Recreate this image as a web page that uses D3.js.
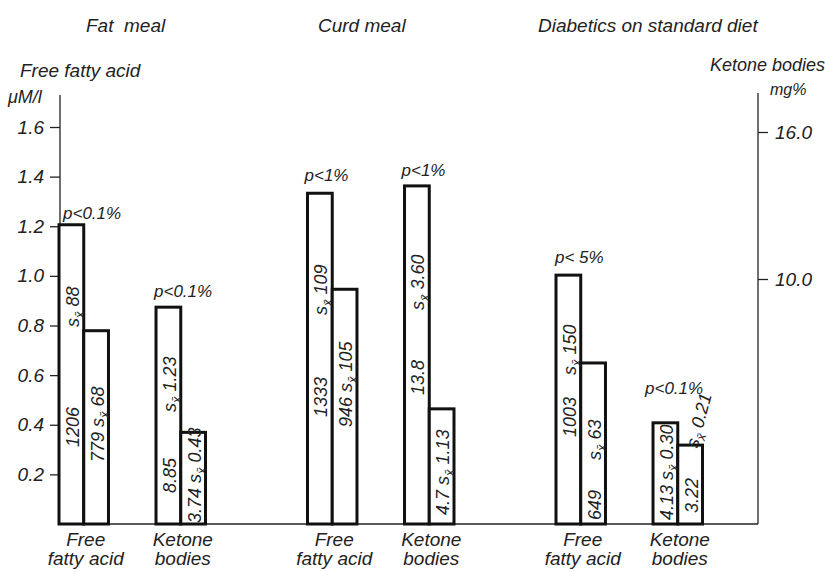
<!DOCTYPE html>
<html>
<head>
<meta charset="utf-8">
<script src="https://cdn.jsdelivr.net/npm/d3@7"></script>
<style>
  html, body { margin: 0; padding: 0; background: #ffffff; }
  svg { display: block; }
  text { font-family: "Liberation Sans", Arial, sans-serif; font-style: italic; fill: #222; }
</style>
</head>
<body>
<svg id="chart" width="825" height="572"></svg>
<script>
// ---------- data ----------
const groups = ["Fat meal", "Curd meal", "Diabetics on standard diet"];
const measures = ["Free fatty acid", "Ketone bodies"];
// Free fatty acid, μM/l (printed values; axis shows them /1000)
const ffaMeans = [[1206, 779], [1333, 946], [1003, 649]];
const ffaSE    = [[88, 68], [109, 105], [150, 63]];
// Ketone bodies, mg%
const kbMeans  = [[8.85, 3.74], [13.8, 4.7], [4.13, 3.22]];
const kbSE     = [[1.23, 0.43], [3.60, 1.13], [0.30, 0.21]];
const pLabels  = [["p<0.1%", "p<0.1%"], ["p<1%", "p<1%"], ["p< 5%", "p<0.1%"]];
const leftTicks  = [200, 400, 600, 800, 1000, 1200, 1400, 1600];
const rightTicks = [10, 16];

// ---------- layout (not data) ----------
const W = 825, H = 572;
const baseY = 524, leftX = 60, rightX = 758;
// label placement along each bar: px above baseline
const labelLayout = [
  {mean: 77, se: 197}, {comb: 62},
  {mean: 31, se: 112}, {comb: 1},
  {mean: 107, se: 209}, {comb: 97},
  {mean: 129, se: 214}, {comb: 9},
  {mean: 87, se: 149}, {mean: 4, se: 64},
  {comb: 4}, {mean: 11, se: 77, tilt: -75}
];
const pLayout = [
  {dx: 4, dy: 6}, {dx: -2, dy: 10},
  {dx: -3, dy: 12}, {dx: -3, dy: 10},
  {dx: -1, dy: 12}, {dx: -8, dy: 29}
];

const svg = d3.select("#chart");

const yL = d3.scaleLinear().domain([0, 1600]).range([baseY, 127]);
const yR = d3.scaleLinear().domain([0, 16]).range([baseY, 132]);

const gx = d3.scaleBand().domain(groups).range([59, 59 + 3 * 248.5]).paddingInner(0).paddingOuter(0);
const mx = d3.scaleBand().domain(measures).range([0, 146.5]).paddingInner(0.49).paddingOuter(0);
const bx = d3.scaleBand().domain([0, 1]).range([0, mx.bandwidth()]).padding(0);

// flatten bars
const bars = [];
groups.forEach((g, gi) => {
  measures.forEach((m, mi) => {
    [0, 1].forEach(k => {
      const isFFA = mi === 0;
      bars.push({
        g, m, k, gi, mi,
        value: isFFA ? ffaMeans[gi][k] : kbMeans[gi][k],
        meanTxt: isFFA ? String(ffaMeans[gi][k]) : String(kbMeans[gi][k]),
        seTxt: isFFA ? String(ffaSE[gi][k]) : kbSE[gi][k].toFixed(2),
        scale: isFFA ? yL : yR
      });
    });
  });
});
bars.forEach((b, i) => {
  b.x = gx(b.g) + mx(b.m) + bx(b.k);
  b.w = bx.bandwidth();
  b.top = b.scale(b.value);
  b.lay = labelLayout[i];
});

// ---------- axes ----------
const axisColor = "#222";
// left axis line
svg.append("line")
  .attr("x1", leftX).attr("x2", leftX)
  .attr("y1", yL(1600) - 32).attr("y2", baseY)
  .attr("stroke", axisColor).attr("stroke-width", 1.3);
// right axis line
svg.append("line")
  .attr("x1", rightX).attr("x2", rightX)
  .attr("y1", yR(16) - 39).attr("y2", baseY)
  .attr("stroke", axisColor).attr("stroke-width", 1.3);

const la = svg.append("g").attr("transform", `translate(${leftX},0)`)
  .call(d3.axisLeft(yL).tickValues(leftTicks).tickSize(10).tickPadding(6)
    .tickFormat(d => (d / 1000).toFixed(1)));
la.select(".domain").remove();
la.selectAll(".tick line").attr("stroke", axisColor).attr("stroke-width", 1.3);
la.selectAll(".tick text").attr("font-size", 19).attr("fill", "#222")
  .style("font-family", '"Liberation Sans", Arial, sans-serif').style("font-style", "italic");

const ra = svg.append("g").attr("transform", `translate(${rightX},0)`)
  .call(d3.axisRight(yR).tickValues(rightTicks).tickSize(10).tickPadding(7)
    .tickFormat(d3.format(".1f")));
ra.select(".domain").remove();
ra.selectAll(".tick line").attr("stroke", axisColor).attr("stroke-width", 1.3);
ra.selectAll(".tick text").attr("font-size", 19).attr("fill", "#222")
  .style("font-family", '"Liberation Sans", Arial, sans-serif').style("font-style", "italic");

// baseline
svg.append("line")
  .attr("x1", leftX - 1).attr("x2", rightX)
  .attr("y1", baseY).attr("y2", baseY)
  .attr("stroke", axisColor).attr("stroke-width", 1.6);

// axis titles
svg.append("text").attr("x", 20).attr("y", 77).attr("font-size", 19).text("Free fatty acid");
svg.append("text").attr("x", 8).attr("y", 103).attr("font-size", 18).text("μM/l");
svg.append("text").attr("x", 710).attr("y", 71).attr("font-size", 18).text("Ketone bodies");
svg.append("text").attr("x", 770).attr("y", 95).attr("font-size", 16).text("mg%");

// group titles
const titleX = [86, 318, 538];
groups.forEach((g, i) => {
  svg.append("text").attr("x", titleX[i]).attr("y", 32).attr("font-size", 19)
    .attr("xml:space", "preserve").text(g === "Fat meal" ? "Fat  meal" : g);
});

// ---------- bars ----------
svg.append("g").selectAll("rect").data(bars).join("rect")
  .attr("x", d => d.x).attr("y", d => d.top)
  .attr("width", d => d.w).attr("height", d => baseY - d.top)
  .attr("fill", "#fff").attr("stroke", "#111").attr("stroke-width", 3);

// bar labels (rotated)
function addSE(t, se) {
  t.append("tspan").text("s");
  t.append("tspan").attr("dy", 5).attr("font-size", 13).text("x\u0304");
  t.append("tspan").attr("dy", -5).text(" " + se);
}
const lg = svg.append("g");
bars.forEach(b => {
  const cx = b.x + b.w / 2;
  const L = b.lay;
  const mk = (off, rot) => lg.append("text")
    .attr("transform", `translate(${cx + 1},${baseY - off}) rotate(${rot || -90})`)
    .attr("dy", "0.36em").attr("font-size", 18);
  if (L.comb !== undefined) {
    const t = mk(L.comb);
    t.append("tspan").text(b.meanTxt + " ");
    addSE(t, b.seTxt);
  } else {
    mk(L.mean).text(b.meanTxt);
    addSE(mk(L.se, L.tilt), b.seTxt);
  }
});

// p-value labels above first bar of each pair
let pi = 0;
groups.forEach((g, gi) => {
  measures.forEach((m, mi) => {
    const b = bars.find(d => d.gi === gi && d.mi === mi && d.k === 0);
    const P = pLayout[pi++];
    svg.append("text").attr("x", b.x + P.dx).attr("y", b.top - P.dy)
      .attr("font-size", 17).attr("xml:space", "preserve").text(pLabels[gi][mi]);
  });
});

// category labels
const catLines = {"Free fatty acid": ["Free", "fatty acid"], "Ketone bodies": ["Ketone", "bodies"]};
groups.forEach(g => {
  measures.forEach(m => {
    const cx = gx(g) + mx(m) + mx.bandwidth() / 2 + 2;
    const t = svg.append("text").attr("text-anchor", "middle").attr("font-size", 19);
    t.append("tspan").attr("x", cx).attr("y", 546).text(catLines[m][0]);
    t.append("tspan").attr("x", cx).attr("y", 565).text(catLines[m][1]);
  });
});
</script>
</body>
</html>
